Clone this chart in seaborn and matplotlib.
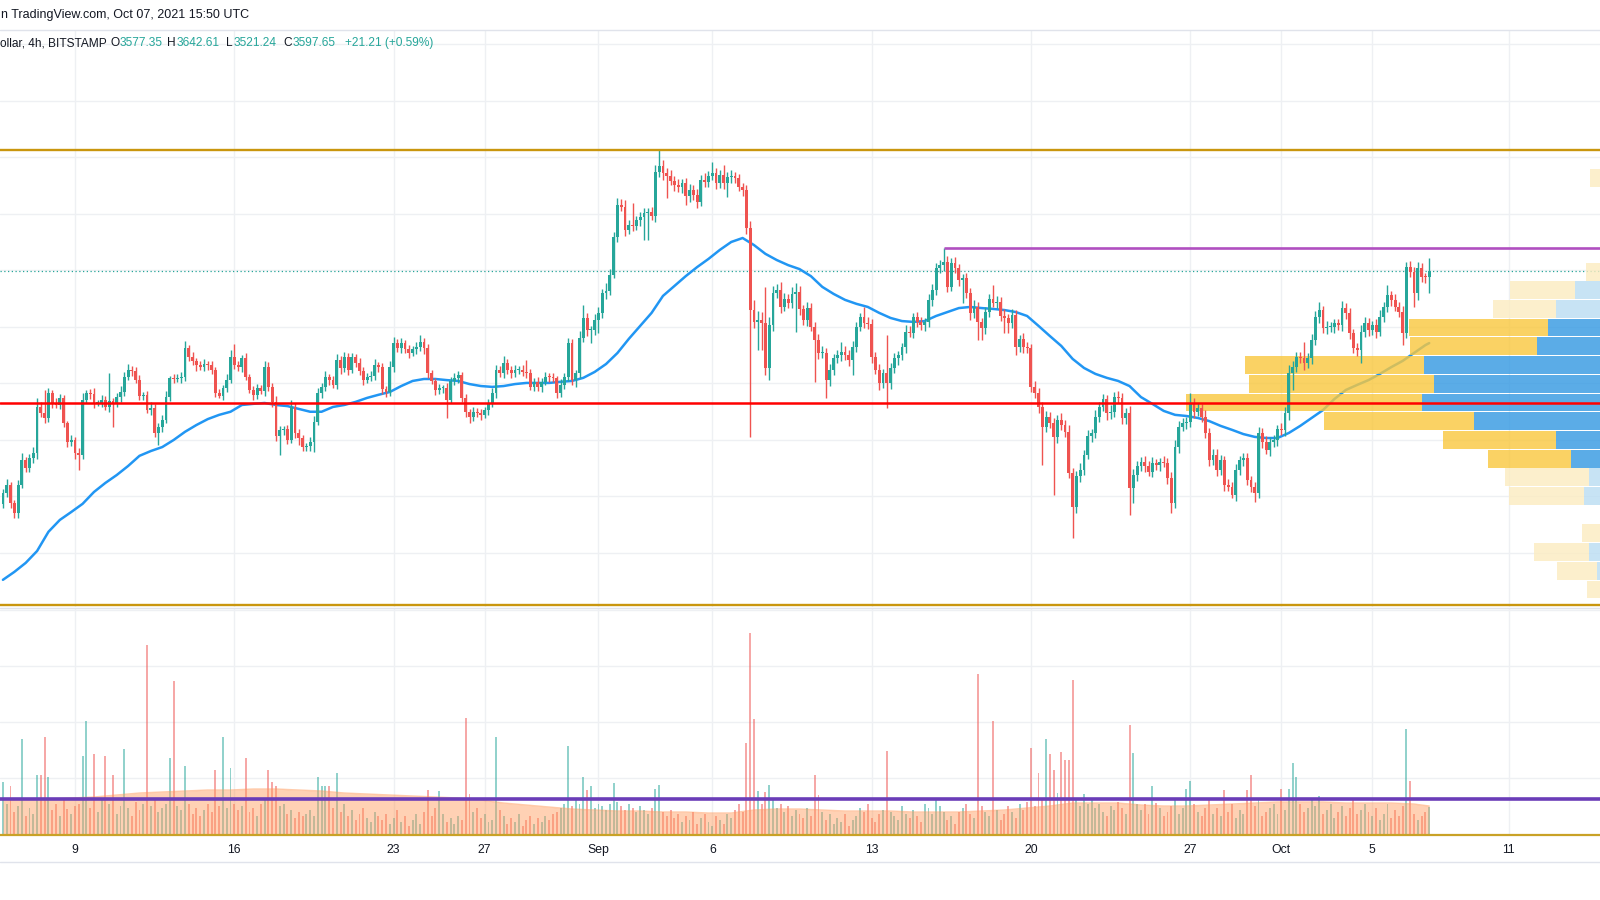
import numpy as np
import pandas as pd
import matplotlib
matplotlib.use("Agg")
import matplotlib.pyplot as plt
import matplotlib.dates as mdates
import matplotlib.transforms as mtrans
from matplotlib.lines import Line2D
import seaborn as sns

W, H = 1600, 900

# ---------------- data ----------------
start = "2021-08-05 20:00"          # first visible 4h candle
first_open = 2775
closes = [
    2811, 2841, 2776, 2740, 2841, 2929, 2900, 2935, 2953, 3118, 3094, 3077, 3165, 3130, 3124, 3148, 3059, 2994, 3000, 2953,
    2947, 3142, 3165, 3163, 3130, 3130, 3142, 3118, 3139, 3130, 3151, 3171, 3224, 3248, 3245, 3212, 3156, 3159, 3106, 3112,
    3026, 3047, 3071, 3153, 3218, 3217, 3221, 3224, 3325, 3293, 3281, 3266, 3260, 3268, 3266, 3248, 3165, 3157, 3183, 3212,
    3295, 3266, 3260, 3289, 3224, 3177, 3159, 3183, 3175, 3260, 3189, 3136, 3014, 3035, 3038, 3000, 3118, 3024, 3006, 2976,
    2979, 2994, 3065, 3165, 3189, 3224, 3212, 3195, 3283, 3254, 3295, 3248, 3293, 3274, 3245, 3212, 3224, 3227, 3266, 3260,
    3179, 3171, 3260, 3342, 3325, 3342, 3321, 3309, 3321, 3330, 3348, 3325, 3236, 3210, 3177, 3183, 3183, 3142, 3210, 3218,
    3230, 3148, 3100, 3083, 3100, 3094, 3089, 3106, 3130, 3165, 3248, 3236, 3274, 3248, 3236, 3248, 3248, 3242, 3236, 3189,
    3207, 3189, 3207, 3224, 3222, 3218, 3165, 3195, 3222, 3342, 3212, 3236, 3360, 3431, 3389, 3389, 3425, 3448, 3519, 3529,
    3584, 3720, 3832, 3826, 3743, 3761, 3758, 3779, 3788, 3802, 3808, 3793, 3950, 3970, 3944, 3935, 3918, 3903, 3897, 3911,
    3864, 3885, 3867, 3844, 3920, 3915, 3935, 3944, 3909, 3938, 3909, 3930, 3935, 3926, 3897, 3885, 3749, 3460, 3419, 3425,
    3413, 3254, 3407, 3519, 3531, 3472, 3498, 3486, 3517, 3525, 3463, 3425, 3466, 3401, 3354, 3307, 3309, 3212, 3248, 3289,
    3301, 3313, 3301, 3283, 3328, 3401, 3437, 3415, 3411, 3295, 3248, 3201, 3236, 3201, 3254, 3289, 3301, 3328, 3384, 3380,
    3434, 3419, 3407, 3419, 3496, 3531, 3608, 3620, 3631, 3543, 3625, 3608, 3566, 3572, 3519, 3448, 3472, 3419, 3395, 3454,
    3498, 3486, 3490, 3440, 3431, 3415, 3442, 3330, 3356, 3330, 3325, 3189, 3165, 3118, 3047, 3080, 3059, 3012, 3071, 3053,
    3030, 2882, 2764, 2873, 2894, 2947, 3014, 3024, 3083, 3118, 3144, 3094, 3100, 3153, 3148, 3077, 3094, 2829, 2876, 2908,
    2923, 2908, 2888, 2917, 2912, 2923, 2920, 2864, 2776, 2976, 3047, 3059, 3065, 3130, 3100, 3112, 3083, 3024, 2929, 2947,
    2894, 2929, 2841, 2835, 2805, 2894, 2929, 2935, 2858, 2835, 2811, 3024, 2994, 2965, 2994, 3000, 3040, 3035, 3094, 3236,
    3260, 3295, 3289, 3271, 3289, 3354, 3437, 3460, 3395, 3401, 3401, 3413, 3407, 3466, 3448, 3378, 3325, 3319, 3384, 3415,
    3389, 3407, 3384, 3437, 3472, 3513, 3496, 3472, 3454, 3378, 3614, 3596, 3519, 3608, 3578, 3577.35, 3597.65,
]
wick_up = [
    14, 20, 9, 12, 18, 25, 10, 16, 22, 30, 15, 83, 20, 12, 18, 14, 10, 9, 16, 12,
    18, 25, 12, 15, 20, 11, 16, 13, 97, 10, 14, 20, 18, 22, 15, 12, 17, 10, 14, 21,
    15, 12, 18, 20, 10, 14, 12, 16, 25, 13, 20, 11, 15, 18, 12, 14, 10, 16, 13, 20,
    22, 45, 14, 12, 18, 10, 13, 16, 11, 20, 15, 12, 18, 14, 10, 16, 22, 12, 14, 10,
    12, 15, 20, 18, 14, 22, 11, 16, 20, 13, 17, 12, 15, 10, 18, 14, 12, 16, 20, 11,
    14, 12, 18, 22, 15, 20, 13, 16, 12, 18, 25, 14, 16, 12, 10, 15, 12, 18, 14, 20,
    16, 12, 14, 10, 18, 13, 15, 12, 16, 20, 18, 14, 22, 12, 15, 18, 13, 16, 41, 14,
    12, 16, 14, 18, 12, 15, 10, 20, 14, 18, 16, 12, 25, 47, 18, 15, 20, 22, 16, 25,
    20, 18, 25, 20, 22, 18, 77, 15, 20, 18, 14, 16, 24, 57, 20, 18, 22, 16, 20, 14,
    18, 20, 16, 22, 18, 24, 16, 41, 20, 18, 36, 18, 20, 14, 16, 12, 18, 25, 35, 30,
    28, 130, 30, 25, 20, 29, 22, 18, 24, 30, 20, 16, 22, 18, 15, 20, 24, 18, 22, 16,
    18, 35, 20, 16, 22, 18, 14, 35, 20, 16, 18, 22, 15, 135, 20, 18, 14, 16, 22, 18,
    16, 20, 18, 14, 20, 22, 18, 16, 49, 20, 18, 22, 16, 14, 18, 20, 22, 16, 14, 18,
    20, 51, 18, 16, 22, 14, 20, 18, 16, 22, 18, 14, 20, 18, 16, 22, 18, 20, 16, 24,
    18, 22, 20, 16, 24, 18, 20, 16, 22, 18, 20, 16, 24, 18, 22, 20, 18, 28, 22, 18,
    16, 20, 18, 22, 16, 14, 20, 18, 22, 25, 20, 18, 16, 35, 18, 20, 16, 22, 18, 20,
    22, 18, 16, 20, 18, 22, 16, 20, 18, 14, 16, 22, 18, 20, 16, 18, 14, 20, 22, 28,
    20, 18, 16, 59, 20, 22, 18, 30, 16, 20, 18, 14, 16, 26, 18, 20, 16, 18, 22, 20,
    18, 16, 20, 22, 18, 36, 16, 20, 18, 22, 17, 20, 16, 22, 18, 14, 44.96,
]
wick_dn = [
    15, 12, 18, 17, 17, 10, 14, 12, 16, 20, 14, 18, 12, 16, 10, 14, 12, 18, 15, 20,
    53, 14, 12, 18, 16, 10, 14, 12, 18, 83, 12, 16, 14, 10, 18, 12, 16, 14, 10, 18,
    16, 44, 18, 12, 14, 16, 10, 18, 14, 12, 16, 20, 12, 14, 18, 16, 12, 10, 16, 14,
    12, 16, 14, 18, 12, 10, 16, 14, 12, 18, 16, 20, 18, 67, 16, 14, 12, 18, 22, 16,
    14, 18, 35, 12, 16, 14, 18, 12, 16, 20, 14, 18, 12, 16, 14, 18, 12, 16, 14, 18,
    16, 20, 14, 18, 12, 16, 14, 18, 12, 16, 14, 20, 16, 12, 18, 14, 16, 65, 12, 14,
    16, 14, 18, 24, 16, 14, 18, 12, 16, 14, 18, 12, 16, 14, 18, 12, 16, 14, 18, 12,
    16, 14, 18, 12, 16, 14, 18, 12, 16, 14, 18, 23, 16, 14, 20, 47, 18, 45, 16, 20,
    14, 12, 18, 16, 20, 14, 18, 16, 20, 80, 94, 16, 20, 18, 22, 79, 16, 20, 18, 22,
    32, 20, 18, 22, 16, 20, 18, 16, 20, 18, 22, 48, 20, 18, 16, 22, 20, 448, 24, 100,
    94, 24, 42, 20, 18, 22, 16, 20, 18, 133, 22, 18, 20, 16, 147, 20, 18, 65, 22, 18,
    16, 20, 18, 22, 53, 18, 16, 20, 18, 22, 16, 24, 18, 89, 20, 16, 22, 18, 20, 16,
    18, 20, 16, 22, 18, 20, 16, 18, 22, 20, 16, 18, 20, 82, 18, 22, 16, 65, 41, 20,
    18, 16, 20, 18, 53, 37, 20, 29, 18, 22, 16, 20, 18, 22, 135, 20, 18, 207, 22, 18,
    20, 18, 112, 22, 20, 18, 16, 22, 18, 20, 16, 22, 18, 20, 16, 22, 20, 95, 53, 20,
    18, 22, 16, 20, 18, 22, 16, 20, 36, 18, 22, 16, 20, 18, 22, 16, 20, 18, 22, 16,
    20, 18, 22, 16, 12, 20, 18, 22, 16, 20, 29, 18, 22, 16, 20, 18, 22, 16, 20, 24,
    59, 20, 18, 22, 16, 20, 18, 22, 16, 20, 18, 22, 16, 20, 18, 22, 16, 20, 48, 18,
    20, 18, 22, 16, 20, 18, 22, 16, 20, 42, 18, 20, 47, 22, 18, 20, 56.11,
]
volume = [
    52, 30, 48, 22, 28, 95, 18, 26, 20, 59, 59, 97, 57, 24, 30, 18, 34, 25, 20, 28,
    30, 78, 113, 26, 80, 22, 34, 78, 30, 59, 20, 28, 85, 26, 18, 32, 24, 30, 189, 28,
    34, 22, 26, 30, 76, 153, 28, 24, 68, 30, 20, 26, 18, 24, 30, 22, 64, 28, 97, 26,
    66, 30, 24, 28, 76, 22, 26, 18, 30, 34, 64, 52, 48, 28, 30, 20, 24, 16, 22, 18,
    20, 24, 18, 57, 48, 48, 48, 26, 61, 22, 30, 18, 24, 14, 20, 26, 16, 12, 22, 18,
    14, 20, 10, 16, 24, 12, 18, 8, 14, 20, 10, 22, 44, 18, 26, 43, 20, 12, 16, 10,
    18, 14, 116, 40, 22, 26, 16, 20, 12, 14, 97, 24, 18, 10, 16, 12, 20, 8, 14, 18,
    10, 16, 12, 18, 14, 20, 22, 26, 30, 88, 28, 34, 30, 57, 44, 48, 26, 30, 28, 24,
    30, 51, 32, 28, 24, 30, 26, 22, 28, 24, 20, 26, 45, 49, 22, 18, 24, 16, 20, 12,
    18, 14, 22, 10, 16, 20, 12, 8, 18, 14, 10, 20, 16, 24, 30, 22, 91, 201, 115, 43,
    30, 42, 49, 34, 26, 30, 22, 28, 18, 24, 20, 16, 26, 18, 59, 39, 22, 14, 20, 10,
    16, 12, 20, 8, 14, 18, 26, 22, 30, 16, 12, 20, 24, 83, 22, 18, 14, 28, 20, 16,
    24, 18, 12, 30, 26, 20, 34, 28, 22, 14, 18, 10, 22, 26, 30, 20, 16, 160, 28, 22,
    18, 113, 24, 14, 20, 28, 22, 16, 30, 24, 32, 86, 28, 61, 36, 95, 80, 64, 41, 82,
    74, 74, 154, 36, 28, 40, 30, 34, 26, 30, 22, 18, 28, 24, 32, 26, 20, 109, 81, 30,
    24, 30, 20, 48, 31, 26, 18, 22, 28, 34, 20, 26, 45, 53, 30, 22, 18, 26, 34, 20,
    26, 18, 44, 22, 30, 16, 24, 20, 44, 59, 28, 34, 18, 22, 26, 30, 20, 45, 24, 45,
    71, 57, 30, 22, 26, 34, 28, 38, 20, 24, 30, 16, 22, 28, 18, 26, 34, 20, 24, 30,
    22, 18, 26, 14, 20, 30, 16, 24, 18, 28, 105, 53, 20, 14, 18, 22, 27,
]
# moving average of price, read every 3rd candle (12h) plus the last candle
price_ma = [
    2505, 2533, 2565, 2607, 2675, 2717, 2745, 2774, 2816, 2848,
    2876, 2908, 2944, 2961, 2975, 3000, 3029, 3053, 3074, 3089,
    3100, 3124, 3128, 3131, 3124, 3120, 3110, 3100, 3100, 3117,
    3124, 3135, 3149, 3160, 3170, 3191, 3209, 3216, 3216, 3212,
    3209, 3198, 3191, 3188, 3191, 3198, 3202, 3202, 3202, 3206,
    3209, 3220, 3241, 3269, 3308, 3358, 3404, 3450, 3510, 3545,
    3580, 3612, 3641, 3673, 3701, 3715, 3690, 3659, 3637, 3619,
    3605, 3580, 3542, 3517, 3496, 3482, 3471, 3450, 3432, 3421,
    3418, 3421, 3439, 3453, 3467, 3471, 3467, 3464, 3460, 3453,
    3439, 3404, 3368, 3333, 3287, 3255, 3234, 3220, 3209, 3191,
    3152, 3128, 3103, 3089, 3085, 3078, 3067, 3050, 3036, 3021,
    3011, 3007, 3007, 3025, 3050, 3078, 3106, 3145, 3177, 3195,
    3212, 3234, 3258, 3280, 3308, 3336,
    3343,
]
# moving average of volume, read once a day (every 6th candle) plus the last candle
volume_ma = [34, 35, 35, 36, 37, 39, 41, 42, 43, 44,
             44, 45, 45, 44, 43, 41, 40, 39, 38, 37,
             36, 34, 31, 29, 27, 25, 24, 23, 23, 22,
             22, 21, 21, 24, 25, 25, 24, 23, 23, 23,
             22, 22, 22, 23, 24, 26, 28, 31, 31, 31,
             29, 28, 28, 29, 30, 31, 32, 32, 32, 31,
             31, 31, 30, 28]
volume_ma_level = 35

# volume profile (price bin centres, two-part volume per bin)
profile_price = [3927, 3861, 3795, 3729, 3663, 3596, 3530, 3464, 3398, 3332, 3265, 3199,
                 3133, 3067, 3001, 2934, 2868, 2802, 2736, 2670, 2603, 2537, 2471]
profile_blue = [50, 25, 25, 25, 30, 50, 85, 104, 112, 123, 236, 226,
                238, 186, 104, 89, 71, 76, 20, 58, 71, 63, 55]
profile_orange = [20, 20, 25, 15, 25, 24, 65, 63, 139, 127, 179, 185,
                  236, 150, 113, 83, 84, 75, 20, 20, 55, 40, 18]
value_area = [False] * 8 + [True] * 8 + [False] * 7
profile_bin = 66.2

# drawn levels
range_top = 4027
range_bottom = 2416
support = 3131
resistance = 3680
resistance_from = 248        # candle index where the resistance line starts

tick_dates = ["2021-08-09", "2021-08-16", "2021-08-23", "2021-08-27", "2021-09-01", "2021-09-06",
              "2021-09-13", "2021-09-20", "2021-09-27", "2021-10-01", "2021-10-05", "2021-10-11"]
tick_labels = ["9", "16", "23", "27", "Sep", "6", "13", "20", "27", "Oct", "5", "11"]

assert len(closes) == len(wick_up) == len(wick_dn) == len(volume), (len(closes), len(wick_up), len(wick_dn), len(volume))

# ---------------- derived ----------------
t = pd.date_range(start, periods=len(closes), freq="4h")
x = mdates.date2num(t)
opens = [first_open] + closes[:-1]
highs = [max(o, c) + u for o, c, u in zip(opens, closes, wick_up)]
lows = [min(o, c) - d for o, c, d in zip(opens, closes, wick_dn)]
is_up = [c >= o for o, c in zip(opens, closes)]

UP, DN = "#26a69a", "#ef5350"
cols = [UP if u else DN for u in is_up]
vcols = [(38/255, 166/255, 154/255, 0.5) if u else (239/255, 83/255, 80/255, 0.5) for u in is_up]

ma_idx = list(range(0, len(closes), 3)) + [len(closes) - 1]
ma_x = x[ma_idx]
vma_idx = list(range(0, len(closes), 6)) + [len(closes) - 1]
vma_x = x[vma_idx]

# ---------------- figure ----------------
sns.set_theme(style="white")
plt.rcParams["font.family"] = ["Liberation Sans", "DejaVu Sans"]

fig = plt.figure(figsize=(W / 100, H / 100), dpi=100)
fig.patch.set_facecolor("white")

def fy(px):
    return 1 - px / H

PX_PER_DAY = 22.76
x_left = mdates.date2num(pd.Timestamp("2021-08-09")) - 75 / PX_PER_DAY
x_right = x_left + W / PX_PER_DAY

pane_top, pane_bot = 30, 607
vol_top, vol_bot = 608, 834
ax = fig.add_axes([0, fy(pane_bot), 1, (pane_bot - pane_top) / H])
vax = fig.add_axes([0, fy(vol_bot), 1, (vol_bot - vol_top) / H])

PX_PER_USD = 0.2825
p_top = 3600 + (270.5 - pane_top) / PX_PER_USD
p_bot = 3600 - (pane_bot - 270.5) / PX_PER_USD

GRID = "#eef0f3"
for a in (ax, vax):
    a.set_facecolor("white")
    for s in a.spines.values():
        s.set_visible(False)
    a.set_xlim(x_left, x_right)
    a.set_xticks(mdates.date2num(pd.to_datetime(tick_dates)))
    a.grid(True, color=GRID, lw=1)
    a.set_axisbelow(True)

ax.set_yticks(np.arange(2600, 4401, 200))
ax.tick_params(length=0, labelleft=False, labelbottom=False)
ax.set_ylim(p_bot, p_top)

# price moving average
sns.lineplot(x=ma_x, y=price_ma, ax=ax, color="#2196f3", linewidth=1.8, zorder=2,
             solid_joinstyle="round", solid_capstyle="round")

# volume profile (right-aligned to the chart's price-scale edge, beyond the canvas)
trans = mtrans.blended_transform_factory(ax.transAxes, ax.transData)
right_edge = 1660 / W
for p, b, o, va in zip(profile_price, profile_blue, profile_orange, value_area):
    cb = (50/255, 152/255, 226/255, 0.8) if va else (186/255, 221/255, 242/255, 0.8)
    co = (249/255, 199/255, 61/255, 0.8) if va else (252/255, 236/255, 192/255, 0.8)
    ax.barh(p, b / W, left=right_edge - b / W, height=profile_bin * 0.95,
            color=cb, lw=0, transform=trans, zorder=3)
    ax.barh(p, o / W, left=right_edge - (b + o) / W, height=profile_bin * 0.95,
            color=co, lw=0, transform=trans, zorder=3)

# candles
ax.vlines(x, lows, highs, colors=cols, lw=1.0, zorder=4)
body_bottom = [min(o, c) for o, c in zip(opens, closes)]
body_h = [max(abs(c - o), 3.5) for o, c in zip(opens, closes)]
ax.bar(x, body_h, bottom=body_bottom, width=0.125, color=cols, lw=0, zorder=4)

# levels
ax.axhline(closes[-1], color=UP, ls=(0, (1, 2)), lw=0.9, zorder=1.5)
ax.axhline(range_top, color="#c9960e", lw=1.7, zorder=5)
ax.axhline(range_bottom, color="#c9960e", lw=1.7, zorder=5)
ax.axhline(support, color="#ff0000", lw=1.8, zorder=5)
ax.hlines(resistance, x[resistance_from], x_right, color="#b04fc0", lw=1.9, zorder=5)
ax.set_xlim(x_left, x_right)
ax.set_ylim(p_bot, p_top)

# volume pane
vax.bar(x, volume, width=0.085, color=vcols, lw=0, zorder=2)
vax.fill_between(vma_x, 0, volume_ma, color=(1.0, 0.6, 0.35), alpha=0.45, lw=0, zorder=3)
sns.lineplot(x=vma_x, y=volume_ma, ax=vax, color=(1.0, 0.6, 0.35), alpha=0.5, linewidth=1, zorder=3)
vax.axhline(volume_ma_level, color="#6a3db8", lw=2.6, zorder=5)
vax.set_ylim(0, vol_bot - vol_top)
vax.set_yticks([56, 112, 168, 224])
vax.set_xlim(x_left, x_right)
vax.set_xticklabels(tick_labels)
vax.tick_params(axis="x", length=0, pad=7, labelsize=8.8, labelcolor="#131722")
vax.tick_params(axis="y", length=0, labelleft=False)
vax.set_xlabel("")
vax.set_ylabel("")
ax.set_xlabel("")
ax.set_ylabel("")

# separators
for ypx, col, lw in [(29.5, "#e0e3eb", 1), (607.5, "#e0e3eb", 1), (835, "#c9a227", 1.6), (862, "#e0e3eb", 1)]:
    fig.add_artist(Line2D([0, 1], [fy(ypx), fy(ypx)], transform=fig.transFigure, color=col, lw=lw))

# header
TXT = "#131722"
fig.text(1 / W, fy(15), "n TradingView.com, Oct 07, 2021 15:50 UTC", fontsize=9, color=TXT, va="center", ha="left")
hdr_y = fy(43)
o_l, c_l = opens[-1], closes[-1]
h_l, l_l = highs[-1], lows[-1]
pieces = [(0, "ollar, 4h, BITSTAMP", TXT), (110, "O", TXT), (120, f"{o_l:.2f}", UP),
          (167, "H", TXT), (177, f"{h_l:.2f}", UP), (226, "L", TXT), (234, f"{l_l:.2f}", UP),
          (283, "C", TXT), (293, f"{c_l:.2f}", UP), (345, "+21.21 (+0.59%)", UP)]
for xp, s, c in pieces:
    fig.text(xp / W, hdr_y, s, fontsize=8.6, color=c, va="center", ha="left")

fig.savefig("out.png", dpi=100, facecolor="white")
